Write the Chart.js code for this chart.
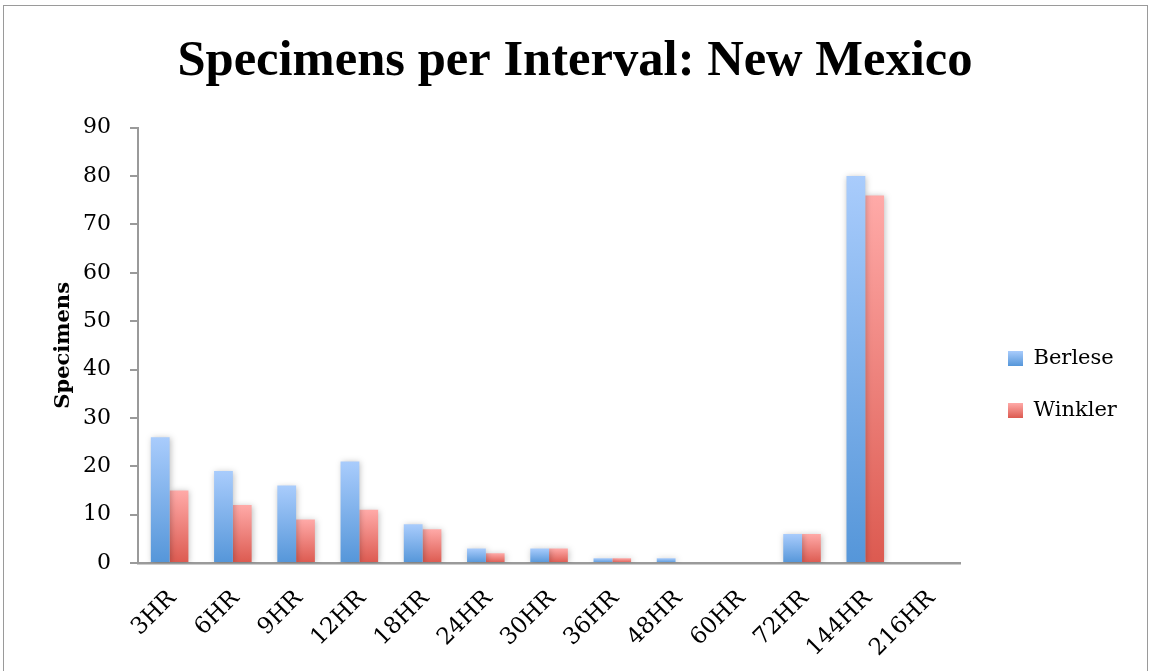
<!DOCTYPE html>
<html>
<head>
<meta charset="utf-8">
<script src="https://cdn.jsdelivr.net/npm/chart.js@4.4.1/dist/chart.umd.min.js"></script>
<style>
  html, body { margin: 0; padding: 0; background: #fff; overflow: hidden; }
  #wrap { position: absolute; left: 3px; top: 5px; width: 1145px; height: 680px; border: 1px solid #9a9a9a; box-sizing: border-box; }
  canvas { position: absolute; left: 0; top: 0; }
</style>
</head>
<body>
<div id="wrap"></div>
<canvas id="c" width="1151" height="671"></canvas>
<script>
const categories = ['3HR','6HR','9HR','12HR','18HR','24HR','30HR','36HR','48HR','60HR','72HR','144HR','216HR'];
const berlese = [26, 19, 16, 21, 8, 3, 3, 1, 1, 0, 6, 80, 0];
const winkler = [15, 12, 9, 11, 7, 2, 3, 1, 0, 0, 6, 76, 0];
const yTicks = [0,10,20,30,40,50,60,70,80,90];

const serif = "'DejaVu Serif', 'Liberation Serif', serif";
const titleSerif = "'Liberation Serif', 'DejaVu Serif', serif";

const seriesColors = {
  Berlese: ['#a9ccfc', '#5596d9'],
  Winkler: ['#ffaaa8', '#dc5a50']
};

function barGradient(top, bottom) {
  return function(ctx) {
    const chart = ctx.chart;
    if (!chart.chartArea || ctx.type !== 'data') return top;
    const ys = chart.scales.y;
    const v = ctx.parsed ? ctx.parsed.y : ctx.raw;
    const p1 = ys.getPixelForValue(v);
    const p0 = ys.getPixelForValue(0);
    if (!(p0 - p1 > 0.5)) return bottom;
    const g = chart.ctx.createLinearGradient(0, p1, 0, p0);
    g.addColorStop(0, top);
    g.addColorStop(1, bottom);
    return g;
  };
}

const shadowPlugin = {
  id: 'shadow',
  beforeDatasetsDraw(chart) {
    const c = chart.ctx;
    c.save();
    c.shadowColor = 'rgba(0,0,0,0.25)';
    c.shadowBlur = 6;
    c.shadowOffsetX = 1;
    c.shadowOffsetY = 1;
  },
  afterDatasetsDraw(chart) { chart.ctx.restore(); }
};

// place the legend block beside the plot like the reference, with gradient swatches
const legendPlace = {
  id: 'legendPlace',
  afterLayout(chart) {
    const lg = chart.legend;
    if (!lg) return;
    const w = lg.width;
    lg.left = 977; lg.right = lg.left + w;
    lg.top = 317;
  },
  afterUpdate(chart) {
    const lg = chart.legend;
    if (!lg) return;
    const lo = lg.options.labels;
    const fs = lo.font.size;
    (lg.legendItems || []).forEach((item, i) => {
      const y0 = lg.top + lo.padding + i * (fs + lo.padding) + Math.max((fs - lo.boxHeight) / 2, 0);
      const cols = seriesColors[item.text];
      const g = chart.ctx.createLinearGradient(0, y0, 0, y0 + lo.boxHeight);
      g.addColorStop(0, cols[0]);
      g.addColorStop(1, cols[1]);
      item.fillStyle = g;
    });
  }
};

new Chart(document.getElementById('c'), {
  type: 'bar',
  data: {
    labels: categories,
    datasets: [
      { label: 'Berlese', data: berlese, backgroundColor: barGradient(...seriesColors.Berlese), borderWidth: 0 },
      { label: 'Winkler', data: winkler, backgroundColor: barGradient(...seriesColors.Winkler), borderWidth: 0 }
    ]
  },
  plugins: [shadowPlugin, legendPlace],
  options: {
    responsive: false,
    animation: false,
    devicePixelRatio: 1,
    layout: { padding: { left: 40, right: 41, top: 0, bottom: 0 } },
    datasets: { bar: { categoryPercentage: 0.594, barPercentage: 1.0 } },
    plugins: {
      title: {
        display: true,
        text: 'Specimens per Interval: New Mexico',
        color: '#000',
        font: { family: titleSerif, size: 50.6, weight: 'bold' },
        padding: { top: 32, bottom: 35 }
      },
      legend: {
        position: 'right',
        align: 'start',
        labels: {
          color: '#000',
          font: { family: serif, size: 21 },
          boxWidth: 15,
          boxHeight: 15,
          padding: 31,
          generateLabels(chart) {
            return chart.data.datasets.map((ds, i) => ({
              text: ds.label,
              fillStyle: seriesColors[ds.label][1],
              strokeStyle: 'rgba(0,0,0,0)',
              lineWidth: 0,
              hidden: false,
              datasetIndex: i,
              fontColor: '#000'
            }));
          }
        }
      },
      tooltip: { enabled: false }
    },
    scales: {
      x: {
        afterFit(axis) { axis.height = 108; },
        grid: { display: false, drawTicks: false },
        border: { color: '#9a9a9a', width: 2.5 },
        ticks: {
          color: '#000',
          font: { family: serif, size: 23 },
          maxRotation: 45, minRotation: 45,
          padding: 22,
          labelOffset: 3
        }
      },
      y: {
        min: 0, max: 90,
        afterFit(axis) { axis.width = 98; },
        afterBuildTicks(axis) { axis.ticks = yTicks.map(v => ({ value: v })); },
        grid: { display: true, drawOnChartArea: false, drawTicks: true, tickLength: 8, color: '#9a9a9a', lineWidth: 2 },
        border: { color: '#9a9a9a', width: 2 },
        ticks: { color: '#000', font: { family: serif, size: 22 }, padding: 19 },
        title: {
          display: true,
          text: 'Specimens',
          color: '#000',
          font: { family: serif, size: 21, weight: 'bold' },
          padding: { top: 11, bottom: 0 }
        }
      }
    }
  }
});
</script>
</body>
</html>
